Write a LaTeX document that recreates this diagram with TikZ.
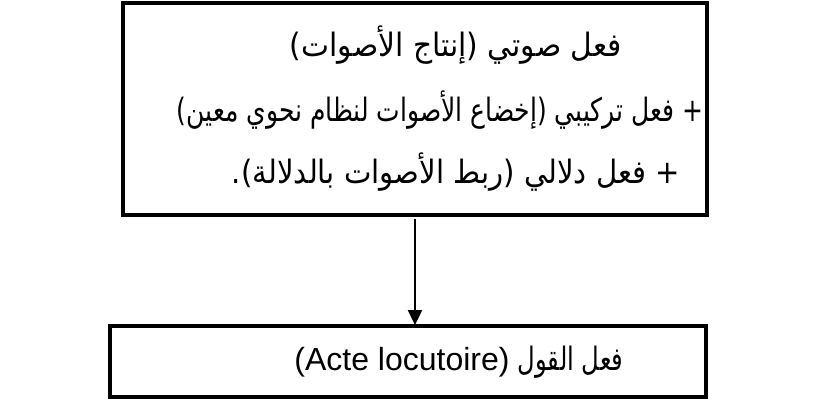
\documentclass[tikz,border=0pt]{standalone}
\usepackage{fontspec}
\usepackage{graphicx}
\setmainfont{Liberation Sans}
\newfontfamily\arabicfont[Script=Arabic]{DejaVu Sans}
\TeXXeTstate=1
\usetikzlibrary{arrows.meta}
\newcommand{\fitline}[2]{\resizebox{#1}{1.15\height}{#2}}
\begin{document}
\begin{tikzpicture}[x=1pt,y=-1pt,
  box/.style={draw, line width=3.2pt, inner sep=0pt},
  txt/.style={font=\fontsize{28}{34}\selectfont\arabicfont, inner sep=0pt, anchor=center},
  arr/.style={line width=2.4pt, -{Triangle[length=15pt,width=14pt]}}]
\useasboundingbox (0,0) rectangle (824,403);
\node[box, minimum width=584pt, minimum height=212pt] (top) at (415,109) {};
\node[box, minimum width=596pt, minimum height=71pt] (bot) at (408,361.5) {};
\node[txt] (l1) at (456,45) {\fitline{332pt}{\beginR فعل صوتي (إنتاج الأصوات)\endR}};
\node[txt] (l2) at (440,110) {\fitline{526pt}{\beginR + فعل تركيبي (إخضاع الأصوات لنظام نحوي معين)\endR}};
\node[txt] (l3) at (456,172) {\fitline{448pt}{\beginR + فعل دلالي (ربط الأصوات بالدلالة).\endR}};
\node[txt] (l4) at (459,362) {{\rmfamily\fontsize{32}{36}\selectfont(Acte locutoire)}\hspace{8pt}\fitline{106pt}{\beginR فعل القول\endR}};
\coordinate (a1) at (415,219);
\coordinate (a2) at (415,325);
\draw[arr] (a1) -- (a2);
\end{tikzpicture}
\end{document}
